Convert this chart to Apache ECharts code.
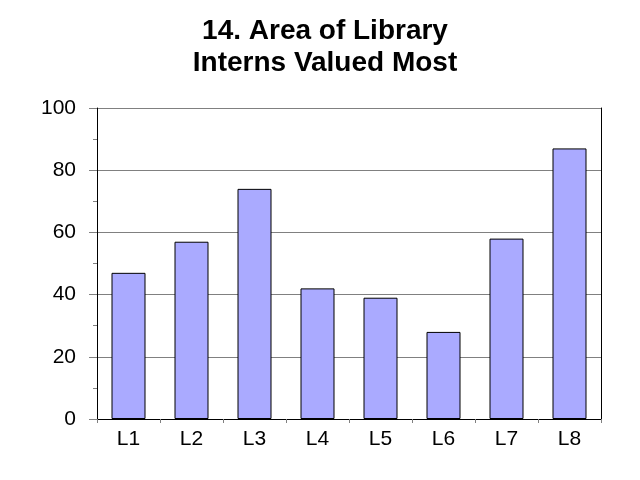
<!DOCTYPE html>
<html><head><meta charset="utf-8">
<script src="https://cdn.jsdelivr.net/npm/echarts@6/dist/echarts.min.js"></script>
<style>html,body{margin:0;padding:0;background:#fff}#c{width:640px;height:480px}</style>
</head><body><div id="c"></div>
<script>
const titleLines = ["14. Area of Library", "Interns Valued Most"];
const categories = ["L1","L2","L3","L4","L5","L6","L7","L8"];
const values = [47, 57, 74, 42, 39, 28, 58, 87];
const yMin = 0, yMax = 100, yStep = 20;

const chart = echarts.init(document.getElementById('c'), null, {renderer:'canvas'});
const font = 'Liberation Sans, Arial, sans-serif';
chart.setOption({
  animation: false,
  backgroundColor: '#ffffff',
  title: {
    text: titleLines.join('\n'),
    left: 320, top: 10, textAlign: 'center',
    textStyle: {fontFamily: font, fontSize: 28, fontWeight: 'bold', color: '#000', lineHeight: 32}
  },
  grid: {left: 97, right: 39, top: 108, bottom: 61, containLabel: false},
  xAxis: [{
    type: 'category', data: categories,
    axisLine: {lineStyle: {color: '#000', width: 1}},
    axisTick: {show: true, length: 4, lineStyle: {color: '#808080'}},
    axisLabel: {fontFamily: font, fontSize: 21, color: '#000', margin: 10},
  }, {
    type: 'category', data: categories, position: 'top',
    axisLine: {show: true, lineStyle: {color: '#000', width: 1}},
    axisTick: {show: false}, axisLabel: {show: false}
  }],
  yAxis: [{
    type: 'value', min: yMin, max: yMax, interval: yStep,
    axisLine: {show: true, lineStyle: {color: '#000', width: 1}},
    axisTick: {show: true, length: 8, lineStyle: {color: '#808080'}},
    minorTick: {show: true, splitNumber: 2, length: 4, lineStyle: {color: '#808080'}},
    splitLine: {show: true, lineStyle: {color: '#808080', width: 1}},
    axisLabel: {fontFamily: font, fontSize: 21, color: '#000', margin: 21},
  }, {
    type: 'value', min: yMin, max: yMax, interval: yStep, position: 'right',
    axisLine: {show: true, lineStyle: {color: '#000', width: 1}},
    axisTick: {show: false}, axisLabel: {show: false}, splitLine: {show: false}
  }],
  series: [{
    type: 'bar', data: values, barWidth: 34,
    itemStyle: {color: '#aaaaff', borderColor: '#000', borderWidth: 1}
  }]
});
</script></body></html>
